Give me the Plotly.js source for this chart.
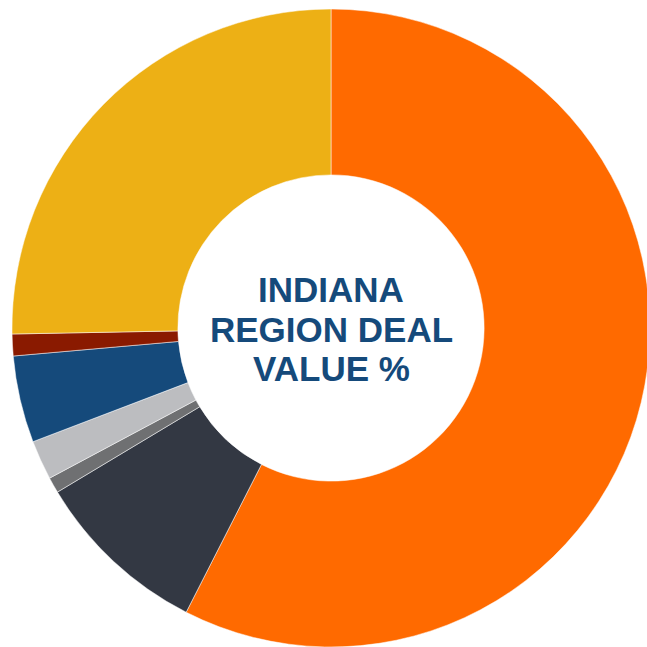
<!DOCTYPE html>
<html>
<head>
<meta charset="utf-8">
<script src="https://cdn.plot.ly/plotly-3.0.1.min.js"></script>
<style>html,body{margin:0;padding:0;overflow:hidden;background:#fff;}</style>
</head>
<body>
<div id="chart"></div>
<script>
const labels = ["Region A", "Region B", "Region C", "Region D", "Region E", "Region F", "Region G"];
const values = [57.5, 8.9, 0.8, 2.0, 4.4, 1.1, 25.3];
const colors = ["#ff6a00", "#333843", "#6f7072", "#bcbdc0", "#154a7b", "#8a1a00", "#edb015"];
const centerLines = ["INDIANA", "REGION DEAL", "VALUE %"];

const trace = {
  type: "pie",
  labels: labels,
  values: values,
  hole: 0.48,
  sort: false,
  direction: "clockwise",
  rotation: 0,
  textinfo: "none",
  hoverinfo: "label+percent",
  marker: {colors: colors, line: {color: "#ffffff", width: 0.5}},
  showlegend: false
};

const ys = [0.561, 0.498, 0.437];
const annotations = centerLines.map((t, i) => ({
  text: "<b>" + t + "</b>",
  x: 0.5, y: ys[i], xref: "paper", yref: "paper",
  xanchor: "center", yanchor: "middle",
  showarrow: false,
  font: {family: "Liberation Sans, Arial, sans-serif", size: 35, color: "#154a7b"}
}));

Plotly.newPlot("chart", [trace], {
  width: 650, height: 650,
  margin: {l: 12, r: 0, t: 9, b: 3},
  paper_bgcolor: "#ffffff",
  annotations: annotations
}, {displayModeBar: false, staticPlot: true});
</script>
</body>
</html>
